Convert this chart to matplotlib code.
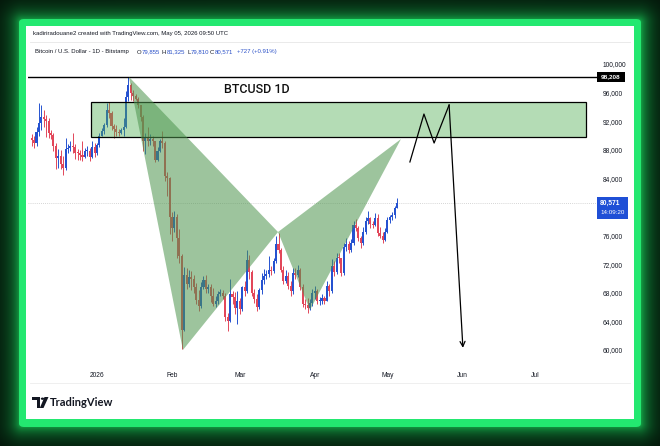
import numpy as np
import pandas as pd
import matplotlib
matplotlib.use('Agg')
import matplotlib.pyplot as plt
from matplotlib.patches import Polygon, Rectangle, FancyBboxPatch, Circle

W, H = 660, 446

# ---------------- data (prices in thousands USD) ----------------
dates = pd.date_range('2025-12-05', '2026-05-05', freq='D')
first_open = 89.6
closes = [
    # Dec 5-31
    89.4, 89.0, 90.5, 91.8, 92.6, 92.3, 92.0, 90.3, 90.1, 88.6, 86.8, 87.2, 86.0, 85.4, 88.1, 88.2, 88.6,
    88.4, 87.6, 87.5, 87.3, 87.0, 87.8, 87.9, 87.0, 88.4, 87.6,
    # Jan
    88.7, 90.0, 90.6, 91.4, 93.6, 93.2, 91.3, 90.9, 90.5, 90.4, 90.8, 91.2, 95.4, 97.0, 96.0, 95.5,
    95.1, 94.2, 92.6, 89.2, 89.6, 89.3, 89.5, 89.2, 86.6, 87.8, 89.2, 89.0, 84.4, 84.0, 78.6,
    # Feb
    77.0, 78.6, 75.7, 73.2, 62.8, 70.5, 69.2, 70.2, 70.0, 68.8, 67.0, 66.2, 68.8, 69.8, 68.6, 68.8,
    67.5, 66.4, 66.9, 67.9, 68.0, 67.6, 64.6, 64.0, 67.9, 67.4, 65.9, 66.9,
    # Mar
    65.8, 68.8, 68.2, 72.6, 70.9, 68.0, 67.2, 66.0, 68.4, 69.8, 70.3, 70.6, 71.2, 71.0, 72.5, 74.8,
    74.0, 71.2, 69.7, 70.4, 69.0, 68.2, 70.8, 70.5, 71.2, 68.8, 66.5, 66.3, 65.9, 66.6, 68.0,
    # Apr
    68.3, 66.8, 66.9, 67.3, 66.9, 68.9, 68.2, 71.8, 70.9, 72.9, 72.8, 70.7, 74.4, 74.8, 74.0, 75.0,
    77.5, 77.1, 75.6, 74.9, 76.5, 78.0, 78.4, 77.6, 77.5, 78.5, 76.3, 76.0, 75.4, 76.5,
    # May
    78.2, 78.6, 78.9, 79.8, 80.571,
]
highs = [
    90.2, 90.0, 91.2, 94.5, 94.2, 93.5, 92.9, 92.5, 90.8, 90.3, 89.0, 88.1, 88.0, 87.2, 89.6, 88.8, 89.3,
    90.4, 88.8, 88.1, 88.0, 89.3, 88.3, 88.6, 88.2, 89.2, 89.0,
    88.9, 90.4, 91.0, 91.7, 94.5, 94.7, 93.4, 91.6, 91.4, 90.9, 91.1, 92.4, 96.2, 98.2, 97.4, 96.3,
    95.8, 95.4, 94.2, 92.8, 90.4, 91.2, 90.2, 89.9, 89.3, 88.4, 89.5, 90.6, 89.2, 84.9, 84.2,
    79.3, 79.4, 79.0, 76.9, 73.4, 71.6, 71.5, 71.2, 71.0, 70.5, 69.4, 68.4, 69.5, 70.3, 70.5, 69.2,
    69.2, 68.7, 67.6, 68.3, 68.5, 68.4, 68.0, 65.2, 69.9, 68.2, 68.1, 68.3,
    67.3, 69.0, 69.6, 74.0, 73.3, 71.2, 68.6, 67.9, 68.7, 70.8, 71.3, 71.2, 73.1, 71.7, 72.9, 75.9,
    76.3, 74.3, 71.8, 71.2, 70.9, 69.6, 71.4, 71.4, 71.9, 71.5, 69.2, 67.2, 67.3, 67.2, 68.5,
    68.9, 68.5, 67.4, 67.8, 67.6, 69.6, 69.3, 72.7, 72.5, 73.5, 73.6, 72.9, 74.9, 75.6, 75.2, 75.5,
    78.1, 78.3, 77.4, 76.0, 77.2, 78.6, 79.4, 78.6, 78.0, 79.2, 79.0, 77.2, 76.5, 77.0,
    78.6, 78.9, 79.3, 80.2, 81.325,
]
lows = [
    88.5, 88.2, 88.6, 89.9, 90.8, 91.2, 89.8, 89.6, 89.5, 87.9, 85.3, 85.5, 85.3, 84.5, 85.2, 87.5, 87.8,
    87.6, 86.7, 86.6, 86.6, 86.5, 86.8, 87.1, 86.5, 86.8, 87.0,
    87.3, 88.4, 89.9, 90.2, 91.2, 92.4, 90.8, 89.7, 89.9, 90.0, 90.2, 90.0, 91.1, 94.8, 95.0, 94.8,
    94.9, 93.8, 92.0, 87.8, 87.4, 88.5, 88.7, 88.6, 86.3, 86.4, 87.7, 88.3, 83.6, 81.5, 76.2,
    75.2, 76.5, 72.9, 72.1, 60.1, 62.6, 68.5, 68.8, 68.4, 68.0, 66.4, 65.5, 65.9, 68.5, 68.0, 68.0,
    66.7, 66.1, 66.0, 66.5, 67.5, 67.2, 64.1, 62.6, 63.9, 66.5, 65.0, 63.7,
    65.0, 65.5, 67.5, 68.0, 70.0, 67.6, 66.6, 65.5, 65.7, 67.8, 69.3, 69.9, 70.2, 70.5, 70.7, 72.2,
    73.5, 70.9, 69.2, 69.4, 68.6, 67.6, 67.9, 70.0, 70.2, 68.4, 66.0, 65.7, 65.2, 65.6, 66.2,
    67.2, 66.4, 66.3, 66.5, 66.4, 66.8, 67.6, 68.0, 70.4, 70.6, 72.1, 70.3, 70.5, 73.9, 73.6, 73.7,
    74.7, 76.6, 75.2, 74.3, 74.7, 76.2, 77.6, 77.1, 77.0, 77.3, 76.0, 75.6, 74.9, 75.2,
    76.3, 77.8, 78.2, 78.5, 79.81,
]

month_ticks = ['2026-01-01', '2026-02-01', '2026-03-01', '2026-04-01', '2026-05-01', '2026-06-01', '2026-07-01']
month_labels = ['2026', 'Feb', 'Mar', 'Apr', 'May', 'Jun', 'Jul']
price_ticks = [60, 64, 68, 72, 76, 84, 88, 92, 96, 100]

# XABCD pattern (day offset from 2026-01-01, price k)
pattern_days = [13.2, 35.5, 74.8, 88.0, 125.6]
pattern_prices = [98.2, 60.0, 76.5, 65.6, 89.5]
# projected path
proj_days = [129.3, 135.1, 139.3, 145.5, 151.2]
proj_prices = [86.3, 93.0, 88.95, 94.27, 60.3]
# supply zone
zone_days = [-2.5, 202.0]
zone_prices = [89.85, 94.7]
resistance = 98.208
last_price = 80.571

# ---------------- figure ----------------
fig = plt.figure(figsize=(6.6, 4.46), dpi=100)

def fx(x):
    return x / W

def fy(y):
    return 1 - y / H

# background glow
bg = fig.add_axes([0, 0, 1, 1], zorder=-10)
yy, xx = np.mgrid[0:H, 0:W]
x0, x1, y0, y1 = 22, 638, 22, 423
dx = np.maximum(np.maximum(x0 - xx, xx - x1), 0)
dy = np.maximum(np.maximum(y0 - yy, yy - y1), 0)
d = np.hypot(dx, dy)
glow = np.exp(-d / 10.0)
base = np.array([0.02, 0.11, 0.05])
vign = 0.6 + 0.4 * np.exp(-((xx - 330) ** 2 / 300 ** 2 + (yy - 223) ** 2 / 220 ** 2))
img = base[None, None, :] * vign[..., None] + glow[..., None] * np.array([0.08, 0.7, 0.3])[None, None, :]
bg.imshow(np.clip(img, 0, 1), extent=[0, W, H, 0], aspect='auto')
bg.set_xlim(0, W)
bg.set_ylim(H, 0)
bg.axis('off')

# green border and white panel
border = FancyBboxPatch((fx(19), fy(427)), fx(641 - 19), (427 - 19) / H,
                        boxstyle='round,pad=0,rounding_size=0.008', transform=fig.transFigure,
                        facecolor='#23e870', edgecolor='none', zorder=-5)
fig.add_artist(border)
panel = Rectangle((fx(26), fy(419)), fx(634 - 26), (419 - 26) / H, transform=fig.transFigure,
                  facecolor='white', edgecolor='none', zorder=-4)
fig.add_artist(panel)

# separator lines
fig.add_artist(plt.Line2D([fx(30), fx(630)], [fy(42), fy(42)], transform=fig.transFigure,
                          color='#e6e6e6', lw=0.6, zorder=-3))
fig.add_artist(plt.Line2D([fx(30), fx(630)], [fy(383), fy(383)], transform=fig.transFigure,
                          color='#ececec', lw=0.6, zorder=-3))

# ---------------- main axes ----------------
ax = fig.add_axes([fx(28), fy(365), fx(597 - 28), (365 - 58) / H], zorder=0)
ax.set_facecolor('none')

jan1 = pd.Timestamp('2026-01-01')
xd = np.array([(d - jan1).days for d in dates], dtype=float)
c = np.array(closes)
o = np.concatenate([[first_open], c[:-1]])
hi = np.maximum(np.array(highs), np.maximum(o, c))
lo = np.minimum(np.array(lows), np.minimum(o, c))
up = c >= o
cols = np.where(up, '#2552d0', '#e2475a')

ax.vlines(xd, lo, hi, colors=cols, lw=0.7, zorder=2)
ax.bar(xd, np.maximum(np.abs(c - o), 0.15), bottom=np.minimum(o, c), width=0.85,
       color=cols, linewidth=0, zorder=3)

# resistance line and last-price line
ax.axhline(resistance, color='black', lw=1.0, zorder=4)
ax.axhline(last_price, color='#c8c8c8', lw=0.6, ls=(0, (1, 1.5)), zorder=1)

# zone
ax.add_patch(Rectangle((zone_days[0], zone_prices[0]), zone_days[1] - zone_days[0],
                       zone_prices[1] - zone_prices[0], facecolor=(0.30, 0.68, 0.31, 0.42),
                       edgecolor='black', lw=0.9, zorder=5))
# XABCD triangles
tri_col = (0.30, 0.58, 0.30, 0.55)
ax.add_patch(Polygon(list(zip(pattern_days[0:3], pattern_prices[0:3])), closed=True,
                     facecolor=tri_col, edgecolor='none', zorder=6))
ax.add_patch(Polygon(list(zip(pattern_days[2:5], pattern_prices[2:5])), closed=True,
                     facecolor=tri_col, edgecolor='none', zorder=6))

# projected path
ax.plot(proj_days[:4], proj_prices[:4], color='black', lw=0.9, zorder=7)
ax.annotate('', xy=(proj_days[4], proj_prices[4]), xytext=(proj_days[3], proj_prices[3]),
            arrowprops=dict(arrowstyle='->', color='black', lw=0.9, mutation_scale=9,
                            shrinkA=0, shrinkB=0), zorder=7)

ax.text(66, 96.4, 'BTCUSD 1D', fontsize=9, ha='center', va='center', weight='medium',
        family=['Roboto', 'DejaVu Sans'], color='#111111', zorder=8)

ax.set_xlim((28 - 97) / 2.42, (597 - 97) / 2.42)
ax.set_ylim(100 - (365 - 64) / 7.15, 100 + (64 - 58) / 7.15)

ax.set_xticks([(pd.Timestamp(m) - jan1).days for m in month_ticks])
ax.set_xticklabels(month_labels)
ax.yaxis.tick_right()
ax.set_yticks(price_ticks)
ax.set_yticklabels(['{:,}'.format(int(round(v * 1000))) for v in price_ticks])
ax.tick_params(axis='both', length=0, labelsize=4.8, labelcolor='#131722')
ax.tick_params(axis='y', pad=4)
ax.tick_params(axis='x', pad=5)
for lab in ax.get_xticklabels() + ax.get_yticklabels():
    lab.set_family(['Liberation Sans', 'DejaVu Sans'])
for s in ax.spines.values():
    s.set_visible(False)

# ---------------- price boxes ----------------
def ybox(val):
    return 64 + (100 - val) * 7.15

yr = ybox(resistance)
fig.add_artist(Rectangle((fx(597), fy(yr + 5)), fx(28), 10 / H, transform=fig.transFigure,
                         facecolor='black', edgecolor='none', zorder=9))
fig.text(fx(611), fy(yr), '{:,}'.format(int(round(resistance * 1000))), fontsize=4.6, color='white',
         ha='center', va='center', weight='bold', family=['Liberation Sans', 'DejaVu Sans'], zorder=10)
yl = ybox(last_price)
fig.add_artist(Rectangle((fx(597), fy(yl + 16)), fx(31), 22 / H, transform=fig.transFigure,
                         facecolor='#1f4fd6', edgecolor='none', zorder=9))
fig.text(fx(600), fy(yl), '{:,}'.format(int(round(last_price * 1000))), fontsize=4.8, color='white',
         ha='left', va='center', weight='bold', family=['Liberation Sans', 'DejaVu Sans'], zorder=10)
fig.text(fx(600), fy(yl + 10), '14:09:20', fontsize=4.5, color='white',
         ha='left', va='center', family=['Liberation Sans', 'DejaVu Sans'], zorder=10)

# ---------------- header texts ----------------
hf = ['Liberation Sans', 'DejaVu Sans']
fig.text(fx(33), fy(33), 'kadiriradouane2 created with TradingView.com, May 05, 2026 09:50 UTC',
         fontsize=4.3, color='#131722', ha='left', va='center', family=hf)
fig.text(fx(35), fy(52), 'Bitcoin / U.S. Dollar - 1D - Bitstamp', fontsize=4.3, color='#131722',
         ha='left', va='center', family=hf)
segs = [(137, 'O', '79,855', 4.6), (162, 'H', '81,325', 4.4), (187, 'L', '79,810', 3.6),
        (210, 'C', '80,571', 4.4)]
for xp, k, v, off in segs:
    fig.text(fx(xp), fy(52), k, fontsize=4.3, color='#131722', ha='left', va='center', family=hf)
    fig.text(fx(xp + off), fy(52), v, fontsize=4.3, color='#2a50c8', ha='left', va='center', family=hf)
fig.text(fx(237), fy(52), '+727 (+0.91%)', fontsize=4.3, color='#2a50c8', ha='left', va='center', family=hf)

# ---------------- TradingView logo ----------------
logo_col = '#131722'
fig.add_artist(Polygon([(fx(32), fy(397)), (fx(40), fy(397)), (fx(40), fy(408)), (fx(36.5), fy(408)),
                        (fx(36.5), fy(400)), (fx(32), fy(400))], closed=True,
                       transform=fig.transFigure, facecolor=logo_col, edgecolor='none', zorder=10))
fig.add_artist(Circle((fx(42.5), fy(398.7)), 1.7 / W, transform=fig.transFigure,
                      facecolor=logo_col, edgecolor='none', zorder=10))
fig.add_artist(Polygon([(fx(44.5), fy(397)), (fx(48.5), fy(397)), (fx(43.5), fy(408)), (fx(39.8), fy(408))],
                       closed=True, transform=fig.transFigure, facecolor=logo_col, edgecolor='none', zorder=10))
fig.text(fx(49.5), fy(402.5), 'TradingView', fontsize=8, weight='bold', color=logo_col,
         ha='left', va='center', family=['Lato', 'DejaVu Sans'], zorder=10)

fig.savefig('out.png', dpi=100)
